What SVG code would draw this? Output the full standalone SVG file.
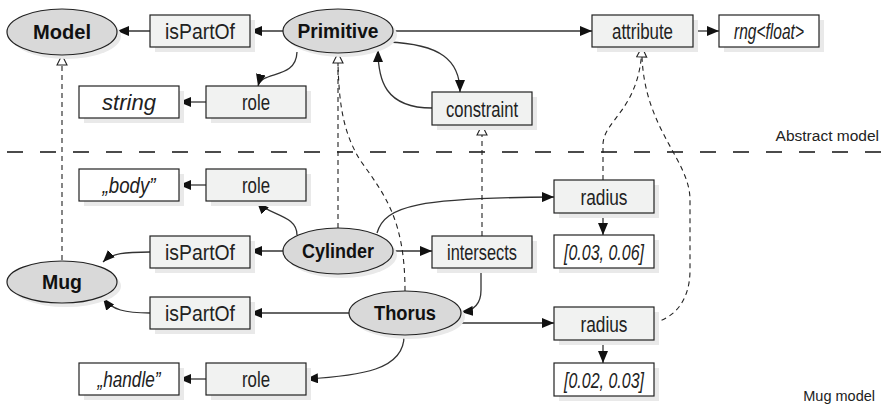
<svg xmlns="http://www.w3.org/2000/svg" width="883" height="405" viewBox="0 0 883 405">
<defs>
<style>
.box{fill:#f1f2f1;stroke:#222;stroke-width:1.2}
.val{fill:#fff;stroke:#222;stroke-width:1.2}
.sh{fill:#e9e9e9}
.ell{fill:#d9d9d9;stroke:#222;stroke-width:1.2}
.lbl{font-family:"Liberation Sans",Arial,sans-serif;font-size:22px;fill:#222;text-anchor:middle}
.it{font-style:italic}
.nl{font-family:"Liberation Sans",Arial,sans-serif;font-weight:bold;font-size:20px;fill:#111;text-anchor:middle}
.side{font-family:"Liberation Sans",Arial,sans-serif;fill:#222;text-anchor:end}
.c{fill:none;stroke:#333;stroke-width:1.3;marker-end:url(#arr)}
.d{fill:none;stroke:#222;stroke-width:1.1;stroke-dasharray:5 4}
.dh{marker-end:url(#hol)}
</style>
<marker id="arr" viewBox="0 0 12 10" refX="12" refY="5" markerWidth="12" markerHeight="10" markerUnits="userSpaceOnUse" orient="auto">
<path d="M0,0 L12,5 L0,10 z" fill="#111"/>
</marker>
<marker id="hol" viewBox="0 0 12 12" refX="11" refY="6" markerWidth="12" markerHeight="12" markerUnits="userSpaceOnUse" orient="auto">
<path d="M1,1 L11,6 L1,11 z" fill="#fff" stroke="#222" stroke-width="1.1" stroke-dasharray="none"/>
</marker>
</defs>
<rect width="883" height="405" fill="#fff"/>

<line x1="7" y1="152" x2="883" y2="152" stroke="#111" stroke-width="1.6" stroke-dasharray="16 17"/>
<text class="side" x="879" y="141" font-size="15.5">Abstract model</text>
<text class="side" x="875" y="401" font-size="14.5">Mug model</text>

<g id="connectors">
<path class="c" d="M283 31 L250 31"/>
<path class="c" d="M150 31 L117 31"/>
<path class="c" d="M393 31 L592 31"/>
<path class="c" d="M693 31 L719 31"/>
<path class="c" d="M297 52 C 296 80, 262 70, 258 86"/>
<path class="c" d="M206 102 L179 102"/>
<path class="c" d="M388 42 C 440 44, 460 60, 460 92"/>
<path class="c" d="M432 108 C 385 108, 378 80, 378 50"/>
<path class="c" d="M377 233 C 385 205, 420 198, 554 197"/>
<path class="c" d="M393 251 L432 251"/>
<path class="c" d="M297 235 C 297 215, 270 216, 257 202"/>
<path class="c" d="M206 185 L179 185"/>
<path class="c" d="M283 251 L250 251"/>
<path class="c" d="M150 252 C 125 252, 112 253, 103 262"/>
<path class="c" d="M349 313 L250 313"/>
<path class="c" d="M150 313 C 125 313, 112 310, 103 298"/>
<path class="c" d="M481 268 L481 290 C 481 305, 472 311, 461 312"/>
<path class="c" d="M459 323 L554 323"/>
<path class="c" d="M404 335 C 405 370, 360 376, 306 379"/>
<path class="c" d="M206 379 L179 379"/>
<path class="c" d="M603 213 L603 235"/>
<path class="c" d="M603 340 L603 363"/>
<path class="d dh" d="M62 260 L62 55"/>
<path class="d dh" d="M338 228 L338 53"/>
<path class="d" d="M405 291 C 405 220, 385 195, 360 160 C 345 135, 339 110, 338 63"/>
<path class="d dh" d="M482 236 L482 125"/>
<path class="d dh" d="M603 180 L603 145 C 603 120, 640 110, 642 47"/>
<path class="d" d="M653 323 C 675 318, 690 300, 690 270 L690 200 C 690 160, 645 130, 642 57"/>
</g>

<g id="model"><ellipse class="sh" cx="66" cy="36" rx="55" ry="23"/><ellipse class="ell" cx="62" cy="32" rx="55" ry="23"/><text class="nl" x="62" y="39" textLength="58" lengthAdjust="spacingAndGlyphs">Model</text></g>
<g id="primitive"><ellipse class="sh" cx="342" cy="35" rx="55" ry="22"/><ellipse class="ell" cx="338" cy="31" rx="55" ry="22"/><text class="nl" x="338" y="38" textLength="81" lengthAdjust="spacingAndGlyphs">Primitive</text></g>
<g id="cylinder"><ellipse class="sh" cx="342" cy="255" rx="55" ry="23"/><ellipse class="ell" cx="338" cy="251" rx="55" ry="23"/><text class="nl" x="338" y="258" textLength="72" lengthAdjust="spacingAndGlyphs">Cylinder</text></g>
<g id="mug"><ellipse class="sh" cx="66" cy="286" rx="55" ry="21"/><ellipse class="ell" cx="62" cy="282" rx="55" ry="21"/><text class="nl" x="62" y="289" textLength="40" lengthAdjust="spacingAndGlyphs">Mug</text></g>
<g id="thorus"><ellipse class="sh" cx="409" cy="317" rx="56" ry="22"/><ellipse class="ell" cx="405" cy="313" rx="56" ry="22"/><text class="nl" x="405" y="320" textLength="62" lengthAdjust="spacingAndGlyphs">Thorus</text></g>

<g id="isPartOf1"><rect class="sh" x="155" y="20" width="100" height="32"/><rect class="box" x="150" y="15" width="100" height="32"/><text class="lbl" x="200" y="39" textLength="70" lengthAdjust="spacingAndGlyphs">isPartOf</text></g>
<g id="attribute"><rect class="sh" x="597" y="20" width="101" height="32"/><rect class="box" x="592" y="15" width="101" height="32"/><text class="lbl" x="642.5" y="39" textLength="61" lengthAdjust="spacingAndGlyphs">attribute</text></g>
<g id="rngfloat"><rect class="sh" x="724" y="20" width="100" height="32"/><rect class="val" x="719" y="15" width="100" height="32"/><text class="lbl it" x="769" y="39" textLength="70" lengthAdjust="spacingAndGlyphs">rng&lt;float&gt;</text></g>
<g id="string"><rect class="sh" x="84" y="91" width="100" height="32"/><rect class="val" x="79" y="86" width="100" height="32"/><text class="lbl it" x="129" y="110" textLength="54" lengthAdjust="spacingAndGlyphs">string</text></g>
<g id="role1"><rect class="sh" x="211" y="91" width="100" height="32"/><rect class="box" x="206" y="86" width="100" height="32"/><text class="lbl" x="256" y="110" textLength="28" lengthAdjust="spacingAndGlyphs">role</text></g>
<g id="constraint"><rect class="sh" x="437" y="97" width="100" height="33"/><rect class="box" x="432" y="92" width="100" height="33"/><text class="lbl" x="482" y="116.5" textLength="72" lengthAdjust="spacingAndGlyphs">constraint</text></g>
<g id="body"><rect class="sh" x="84" y="174" width="100" height="32"/><rect class="val" x="79" y="169" width="100" height="32"/><text class="lbl it" x="129" y="193" textLength="53" lengthAdjust="spacingAndGlyphs">„body”</text></g>
<g id="role2"><rect class="sh" x="211" y="174" width="100" height="32"/><rect class="box" x="206" y="169" width="100" height="32"/><text class="lbl" x="256" y="193" textLength="28" lengthAdjust="spacingAndGlyphs">role</text></g>
<g id="radius1"><rect class="sh" x="559" y="185" width="100" height="33"/><rect class="box" x="554" y="180" width="100" height="33"/><text class="lbl" x="604" y="204.5" textLength="47" lengthAdjust="spacingAndGlyphs">radius</text></g>
<g id="isPartOf2"><rect class="sh" x="155" y="241" width="100" height="32"/><rect class="box" x="150" y="236" width="100" height="32"/><text class="lbl" x="200" y="260" textLength="70" lengthAdjust="spacingAndGlyphs">isPartOf</text></g>
<g id="intersects"><rect class="sh" x="437" y="241" width="100" height="32"/><rect class="box" x="432" y="236" width="100" height="32"/><text class="lbl" x="482" y="260" textLength="70" lengthAdjust="spacingAndGlyphs">intersects</text></g>
<g id="val1"><rect class="sh" x="559" y="240" width="100" height="33"/><rect class="val" x="554" y="235" width="100" height="33"/><text class="lbl it" x="604" y="259.5" textLength="80" lengthAdjust="spacingAndGlyphs">[0.03, 0.06]</text></g>
<g id="isPartOf3"><rect class="sh" x="155" y="302" width="100" height="32"/><rect class="box" x="150" y="297" width="100" height="32"/><text class="lbl" x="200" y="321" textLength="70" lengthAdjust="spacingAndGlyphs">isPartOf</text></g>
<g id="radius2"><rect class="sh" x="559" y="312" width="100" height="33"/><rect class="box" x="554" y="307" width="100" height="33"/><text class="lbl" x="604" y="331.5" textLength="47" lengthAdjust="spacingAndGlyphs">radius</text></g>
<g id="handle"><rect class="sh" x="84" y="368" width="100" height="32"/><rect class="val" x="79" y="363" width="100" height="32"/><text class="lbl it" x="129" y="387" textLength="63" lengthAdjust="spacingAndGlyphs">„handle”</text></g>
<g id="role3"><rect class="sh" x="211" y="368" width="100" height="32"/><rect class="box" x="206" y="363" width="100" height="32"/><text class="lbl" x="256" y="387" textLength="28" lengthAdjust="spacingAndGlyphs">role</text></g>
<g id="val2"><rect class="sh" x="559" y="368" width="100" height="33"/><rect class="val" x="554" y="363" width="100" height="33"/><text class="lbl it" x="604" y="387.5" textLength="80" lengthAdjust="spacingAndGlyphs">[0.02, 0.03]</text></g>
</svg>
